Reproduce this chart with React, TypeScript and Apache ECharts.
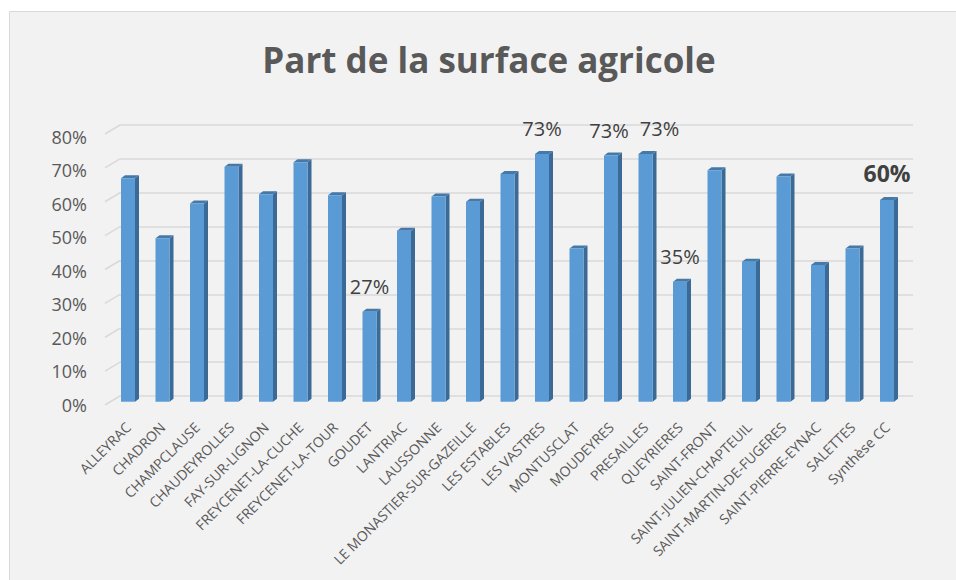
import React, { useEffect, useRef } from "react";
import * as echarts from "echarts";

const categories = [
  "ALLEYRAC", "CHADRON", "CHAMPCLAUSE", "CHAUDEYROLLES", "FAY-SUR-LIGNON",
  "FREYCENET-LA-CUCHE", "FREYCENET-LA-TOUR", "GOUDET", "LANTRIAC", "LAUSSONNE",
  "LE MONASTIER-SUR-GAZEILLE", "LES ESTABLES", "LES VASTRES", "MONTUSCLAT",
  "MOUDEYRES", "PRESAILLES", "QUEYRIERES", "SAINT-FRONT", "SAINT-JULIEN-CHAPTEUIL",
  "SAINT-MARTIN-DE-FUGERES", "SAINT-PIERRE-EYNAC", "SALETTES", "Synthèse CC",
];
const values = [
  65.9, 48.2, 58.5, 69.3, 61.2, 70.6, 60.9, 26.5, 50.4, 60.5, 59.0, 67.2,
  73.1, 45.2, 72.6, 73.1, 35.4, 68.3, 41.3, 66.4, 40.3, 45.2, 59.5,
];
// 0 = no label, 1 = normal label, 2 = bold label
const labelKinds = [
  0, 0, 0, 0, 0, 0, 0, 1, 0, 0, 0, 0, 1, 0, 1, 1, 1, 0, 0, 0, 0, 0, 2,
];
const yTicks = [0, 10, 20, 30, 40, 50, 60, 70, 80];
const title = "Part de la surface agricole";

// horizontal nudges of some value labels (layout only), keyed by category index
const LABEL_NUDGE: Record<number, number> = { 14: -2, 15: 14 };

export default function App() {
  const ref = useRef<HTMLDivElement>(null);
  useEffect(() => {
    const chart = echarts.init(ref.current!, undefined, { renderer: "svg" });
    const font = "'Open Sans', 'Noto Sans', sans-serif";
    const W = 14, DX = 4, DY = 3;
    chart.setOption({
      animation: false,
      backgroundColor: "#ffffff",
      graphic: [
        {
          type: "rect",
          z: -10,
          shape: { x: 9.5, y: 11.5, width: 960, height: 600 },
          style: { fill: "#f2f2f2", stroke: "#d9d9d9", lineWidth: 1 },
        },
        {
          type: "text",
          x: 489,
          y: 59,
          style: {
            text: title,
            font: `bold 35px ${font}`,
            fill: "#595959",
            align: "center",
            verticalAlign: "middle",
          },
        },
      ],
      grid: [
        { left: 120, right: 43, top: 125, bottom: 184 },
        { left: 110.75, right: 51.75, top: 130.5, bottom: 178.3 },
        { left: 105, right: 43, top: 136.7, bottom: 175 },
      ],
      xAxis: [
        { gridIndex: 0, type: "value", min: 0, max: 1, show: false },
        {
          gridIndex: 1,
          type: "category",
          data: categories,
          axisLine: { show: false },
          axisTick: { show: false },
          axisLabel: {
            rotate: 45,
            interval: 0,
            margin: 23,
            color: "#595959",
            fontSize: 14,
            fontFamily: font,
          },
        },
        { gridIndex: 2, type: "value", min: 0, max: 1, show: false },
      ],
      yAxis: [
        {
          gridIndex: 0,
          type: "value",
          min: 0,
          max: 80,
          interval: 10,
          axisLine: { show: false },
          axisTick: { show: false },
          axisLabel: { show: false },
          splitLine: { lineStyle: { color: "#d9d9d9", width: 1.5 } },
        },
        {
          gridIndex: 1,
          type: "value",
          min: 0,
          max: 80,
          interval: 10,
          show: false,
        },
        {
          gridIndex: 2,
          type: "value",
          min: 0,
          max: 80,
          interval: 10,
          axisLine: { show: false },
          axisTick: { show: false },
          splitLine: { show: false },
          axisLabel: {
            margin: 18,
            color: "#595959",
            fontSize: 18,
            fontFamily: font,
            formatter: (v: number) => `${v}%`,
          },
        },
      ],
      series: [
        {
          type: "custom",
          xAxisIndex: 0,
          yAxisIndex: 0,
          silent: true,
          data: yTicks.map((t) => [0, t]),
          renderItem: (params: any, api: any) => {
            const p = api.coord([0, api.value(1)]);
            return {
              type: "line",
              shape: { x1: p[0] - 15, y1: p[1] + 9, x2: p[0], y2: p[1] },
              style: { stroke: "#d9d9d9", lineWidth: 1.5 },
            };
          },
        },
        {
          type: "custom",
          xAxisIndex: 1,
          yAxisIndex: 1,
          silent: true,
          data: values.map((v, i) => [i, v, labelKinds[i]]),
          renderItem: (params: any, api: any) => {
            const i = api.value(0);
            const v = api.value(1);
            const kind = api.value(2);
            const top = api.coord([i, v]);
            const bot = api.coord([i, 0]);
            const fx = top[0] - W / 2;
            const ty = top[1];
            const by = bot[1];
            const children: any[] = [
              {
                type: "polygon",
                shape: {
                  points: [
                    [fx + W, ty],
                    [fx + W + DX, ty - DY],
                    [fx + W + DX, by - DY],
                    [fx + W, by],
                  ],
                },
                style: { fill: "#3b6a96" },
              },
              {
                type: "polygon",
                shape: {
                  points: [
                    [fx, ty],
                    [fx + DX, ty - DY],
                    [fx + W + DX, ty - DY],
                    [fx + W, ty],
                  ],
                },
                style: { fill: "#4579a8" },
              },
              {
                type: "rect",
                shape: { x: fx, y: ty, width: W, height: by - ty },
                style: { fill: "#5b9bd5" },
              },
            ];
            if (kind > 0) {
              children.push({
                type: "text",
                x: top[0] + (LABEL_NUDGE[i] || 0),
                y: ty - (kind === 2 ? 27 : 25),
                style: {
                  text: `${Math.round(v)}%`,
                  font: kind === 2 ? `bold 23px ${font}` : `20px ${font}`,
                  fill: "#404040",
                  align: "center",
                  verticalAlign: "middle",
                },
              });
            }
            return { type: "group", children };
          },
        },
      ],
    });
    return () => chart.dispose();
  }, []);
  return (
    <div
      ref={ref}
      style={{ position: "absolute", left: 0, top: 0, width: 956, height: 580 }}
    />
  );
}
